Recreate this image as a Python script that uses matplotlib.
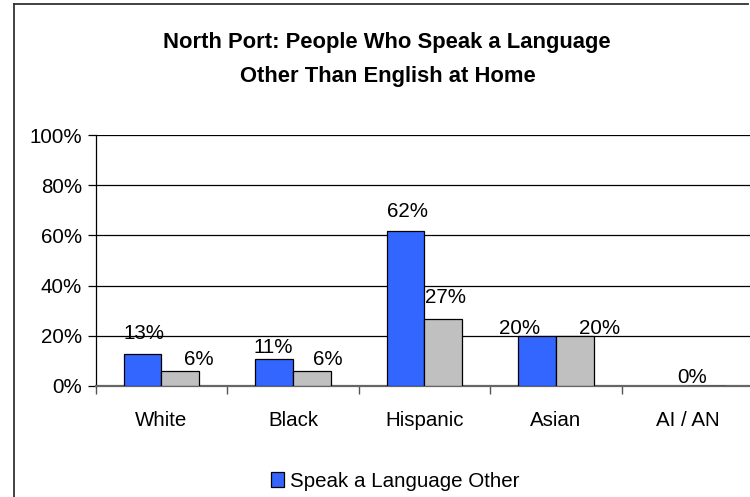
import numpy as np
import matplotlib
matplotlib.use("Agg")
import matplotlib.pyplot as plt
from matplotlib.lines import Line2D

categories = ["White", "Black", "Hispanic", "Asian", "AI / AN"]
speak_other = [0.126, 0.106, 0.617, 0.20, np.nan]
comparison = [0.06, 0.06, 0.268, 0.20, 0.0]
series_names = ["Speak a Language Other"]
yticks = [0.0, 0.2, 0.4, 0.6, 0.8, 1.0]
title_lines = ["North Port: People Who Speak a Language", "Other Than English at Home"]

# label placement tweaks (pixel offsets from bar top centre), styling only
blue_offsets = [(1.4, 15.3), (-0.8, 6), (1.4, 14), (-17.8, 1.8), (0, 0)]
gray_offsets = [(18.3, 5.3), (15.8, 5.3), (1.8, 15.4), (25, 1.8), (-13.7, 2.4)]

plt.rcParams['font.family'] = ['Liberation Sans', 'DejaVu Sans']

W, H = 750, 497
fig = plt.figure(figsize=(7.5, 4.97), dpi=100)
fig.patch.set_facecolor("white")

x0, x1 = 95.7, 753.2
y0, y1 = 385.7, 135.3
ax = fig.add_axes([x0 / W, (H - y0) / H, (x1 - x0) / W, (y0 - y1) / H])

x = np.arange(len(categories))
bw = 1 / 3.5
fs = 14.8
blue = "#3366FF"
gray = "#C0C0C0"

b1 = ax.bar(x - bw / 2, speak_other, bw, color=blue, edgecolor="black", linewidth=0.9,
            label=series_names[0], zorder=3)
b2 = ax.bar(x + bw / 2, comparison, bw, color=gray, edgecolor="black", linewidth=0.9, zorder=3)

for i, v in enumerate(speak_other):
    if np.isnan(v):
        continue
    ax.annotate(f"{v:.0%}", (x[i] - bw / 2, v), xytext=blue_offsets[i], textcoords="offset pixels",
                ha="center", va="baseline", fontsize=fs, zorder=4)
for i, v in enumerate(comparison):
    ax.annotate(f"{v:.0%}", (x[i] + bw / 2, v), xytext=gray_offsets[i], textcoords="offset pixels",
                ha="center", va="baseline", fontsize=fs, zorder=4)

ax.set_xlim(-0.5, len(categories) - 0.5)
ax.set_ylim(0, 1.0)
ax.set_yticks(yticks)
ax.set_yticklabels([f"{t:.0%}" for t in yticks], fontsize=fs)
ax.set_xticks(x)
ax.set_xticklabels(categories, fontsize=fs)
ax.set_xticks(np.arange(-0.5, len(categories), 1.0), minor=True)
ax.tick_params(axis="x", which="major", length=0, pad=18.5)
ax.tick_params(axis="x", which="minor", length=5.5, width=1, color="#555555", direction="out")
ax.tick_params(axis="y", length=6, width=0.9, pad=4, direction="out")

ax.grid(axis="y", color="black", linewidth=0.9, zorder=0)
ax.set_axisbelow(True)
for s in ["top", "right"]:
    ax.spines[s].set_visible(False)
ax.spines["left"].set_color("black")
ax.spines["left"].set_linewidth(0.9)
ax.spines["bottom"].set_color("#666666")
ax.spines["bottom"].set_linewidth(1.6)

# titles
fig.text(387 / W, (H - 48.3) / H, title_lines[0], ha="center", va="baseline",
         fontsize=15.8, fontweight="bold")
fig.text(387.5 / W, (H - 81.7) / H, title_lines[1], ha="center", va="baseline",
         fontsize=15.8, fontweight="bold")

# chart border (partially visible)
fig.add_artist(Line2D([14 / W, 14 / W], [0, (H - 3.5) / H], transform=fig.transFigure,
                      color="#333333", linewidth=1.3))
fig.add_artist(Line2D([14 / W, 748 / W], [(H - 3.5) / H, (H - 3.5) / H], transform=fig.transFigure,
                      color="#333333", linewidth=1.3))

leg = fig.legend(handles=[b1], loc="center", bbox_to_anchor=(395.3 / W, (H - 481.5) / H),
                 frameon=False, fontsize=fs, handlelength=0.62, handleheight=0.75,
                 handletextpad=0.3, borderpad=0, borderaxespad=0)

fig.savefig("out.png", dpi=100, facecolor="white")
